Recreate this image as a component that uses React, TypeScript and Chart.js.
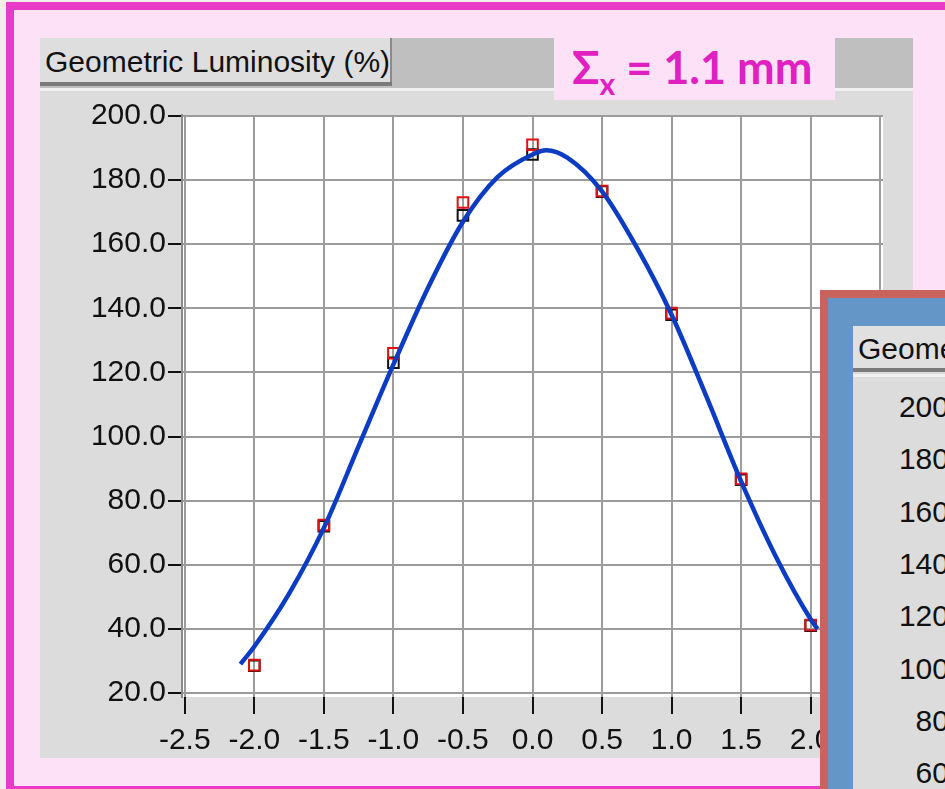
import React, { useEffect, useRef } from "react";
import { Chart, registerables } from "chart.js";

Chart.register(...registerables);

// ---- data ----
const xTicks = [-2.5, -2.0, -1.5, -1.0, -0.5, 0.0, 0.5, 1.0, 1.5, 2.0, 2.5];
const yTicks = [20, 40, 60, 80, 100, 120, 140, 160, 180, 200];

const pointX = [-2.0, -1.5, -1.0, -0.5, 0.0, 0.5, 1.0, 1.5, 2.0];
const redY = [28.7, 72.4, 126.0, 173.0, 191.0, 176.6, 138.5, 86.8, 41.2];
const blackY = [28.5, 72.0, 123.0, 169.0, 188.0, 176.4, 138.0, 86.5, 41.0];

const curveX = [-2.1, -2.0, -1.75, -1.5, -1.25, -1.0, -0.75, -0.5, -0.25, 0.0, 0.1, 0.25, 0.5, 0.75, 1.0, 1.25, 1.5, 1.75, 2.0, 2.05];
const curveY = [29.0, 34.5, 51.0, 71.5, 97.0, 122.5, 146.5, 167.0, 181.0, 188.0, 189.3, 187.0, 176.5, 159.0, 138.0, 112.5, 86.0, 62.5, 43.0, 40.0];

const overlayTicks = ["200.0", "180.0", "160.0", "140.0", "120.0", "100.0", "80.0", "60.0", "40.0", "20.0"];

const TITLE = "Geometric Luminosity (%)";
const FONT = "'Liberation Sans', Arial, Helvetica, sans-serif";

const plotBg = {
  id: "plotBg",
  beforeDraw(chart: any) {
    const { ctx, chartArea } = chart;
    ctx.save();
    ctx.fillStyle = "#ffffff";
    ctx.fillRect(chartArea.left, chartArea.top, chartArea.right - chartArea.left, chartArea.bottom - chartArea.top);
    ctx.restore();
  },
};

function LumiChart() {
  const ref = useRef<HTMLCanvasElement>(null);
  useEffect(() => {
    if (!ref.current) return;
    const chart = new Chart(ref.current, {
      type: "scatter",
      data: {
        datasets: [
          {
            type: "line",
            data: curveX.map((x, i) => ({ x, y: curveY[i] })),
            borderColor: "#0b3cc2",
            borderWidth: 4.5,
            pointRadius: 0,
            cubicInterpolationMode: "monotone",
            fill: false,
            order: 0,
          } as any,
          {
            data: pointX.map((x, i) => ({ x, y: redY[i] })),
            pointStyle: "rect",
            pointRadius: 7.5,
            borderColor: "#e01010",
            borderWidth: 2,
            backgroundColor: "rgba(0,0,0,0)",
            order: 1,
          },
          {
            data: pointX.map((x, i) => ({ x, y: blackY[i] })),
            pointStyle: "rect",
            pointRadius: 7.5,
            borderColor: "#111111",
            borderWidth: 2,
            backgroundColor: "rgba(0,0,0,0)",
            order: 2,
          },
        ],
      },
      options: {
        animation: false,
        responsive: false,
        maintainAspectRatio: false,
        layout: { padding: { top: 24, right: 30, left: 0, bottom: 0 } },
        plugins: { legend: { display: false }, tooltip: { enabled: false } },
        scales: {
          x: {
            type: "linear",
            min: -2.52,
            max: 2.52,
            afterBuildTicks: (s: any) => {
              s.ticks = xTicks.map((v) => ({ value: v }));
            },
            afterFit: (s: any) => {
              s.height = 61;
            },
            ticks: {
              callback: (v: any) => Number(v).toFixed(1),
              font: { family: FONT, size: 30 },
              color: "#111",
              padding: 9,
              maxRotation: 0,
              autoSkip: false,
            },
            grid: {
              color: "#9c9c9c",
              lineWidth: 2,
              tickColor: "#111",
              tickLength: 17,
              tickWidth: 2,
            },
            border: { display: false },
          },
          y: {
            type: "linear",
            min: 18.75,
            max: 200.3,
            afterBuildTicks: (s: any) => {
              s.ticks = yTicks.map((v) => ({ value: v }));
            },
            afterFit: (s: any) => {
              s.width = 142;
            },
            ticks: {
              callback: (v: any) => Number(v).toFixed(1),
              font: { family: FONT, size: 30 },
              color: "#111",
              padding: 2,
            },
            grid: {
              color: "#9c9c9c",
              lineWidth: 2,
              tickColor: "#111",
              tickLength: 14,
              tickWidth: 2,
            },
            border: { display: true, color: "#8a8a8a", width: 2 },
          },
        },
      },
      plugins: [plotBg],
    } as any);
    return () => chart.destroy();
  }, []);
  return <canvas ref={ref} width={873} height={667} style={{ position: "absolute", left: 40, top: 91, width: 873, height: 667 }} />;
}

export default function App() {
  const abs = (s: React.CSSProperties): React.CSSProperties => ({ position: "absolute", boxSizing: "border-box", ...s });
  return (
    <div style={{ position: "fixed", left: 0, top: 0, width: 945, height: 789, overflow: "hidden", background: "#efefe8", fontFamily: FONT }}>
      {/* magenta frame */}
      <div style={abs({ left: 6, top: 2, width: 1000, height: 792, border: "8px solid #e83cc8", background: "#fde1f7" })} />
      {/* gray panel */}
      <div style={abs({ left: 40, top: 38, width: 873, height: 720, background: "#dcdcdc" })} />
      <div style={abs({ left: 40, top: 38, width: 873, height: 50, background: "#bfbfbf" })} />
      <div style={abs({ left: 40, top: 38, width: 352, height: 44, background: "#dedede", borderRight: "2px solid #8a8a8a" })} />
      <div style={abs({ left: 40, top: 82, width: 352, height: 4, background: "#7a7a7a" })} />
      <div style={abs({ left: 40, top: 88, width: 873, height: 3, background: "#f0f0f0" })} />
      <div style={abs({ left: 45, top: 40, height: 44, lineHeight: "44px", fontSize: 30, color: "#111", whiteSpace: "nowrap" })}>{TITLE}</div>
      {/* sigma label */}
      <div style={abs({ left: 554, top: 38, width: 281, height: 62, background: "#fde1f7" })} />
      <div
        style={abs({
          left: 572,
          top: 36,
          height: 62,
          lineHeight: "62px",
          fontFamily: "Lato, 'Open Sans', sans-serif",
          fontWeight: 700,
          fontSize: 45,
          color: "#e020c0",
          whiteSpace: "nowrap",
        })}
      >
        Σ<sub style={{ fontSize: 30, verticalAlign: "-11px", lineHeight: 0 }}>x</sub> = 1.1 mm
      </div>

      <LumiChart />

      {/* overlapping second panel */}
      <div style={abs({ left: 820, top: 290, width: 200, height: 600, border: "8px solid #c8645c", background: "#6496c8" })} />
      <div style={abs({ left: 853, top: 326, width: 200, height: 500, background: "#dcdcdc" })} />
      <div style={abs({ left: 853, top: 326, width: 200, height: 42, background: "#e0e0e0" })} />
      <div style={abs({ left: 853, top: 368, width: 200, height: 4, background: "#7a7a7a" })} />
      <div style={abs({ left: 853, top: 374, width: 200, height: 3, background: "#f0f0f0" })} />
      <div style={abs({ left: 858, top: 328, height: 42, lineHeight: "42px", fontSize: 30, color: "#111", whiteSpace: "nowrap" })}>{TITLE}</div>
      {overlayTicks.map((t, i) => (
        <div
          key={t}
          style={abs({
            left: 860,
            top: 407 + i * 52.3 - 18,
            width: 124,
            height: 36,
            lineHeight: "36px",
            textAlign: "right",
            fontSize: 30,
            color: "#111",
            whiteSpace: "nowrap",
          })}
        >
          {t}-
        </div>
      ))}
    </div>
  );
}
